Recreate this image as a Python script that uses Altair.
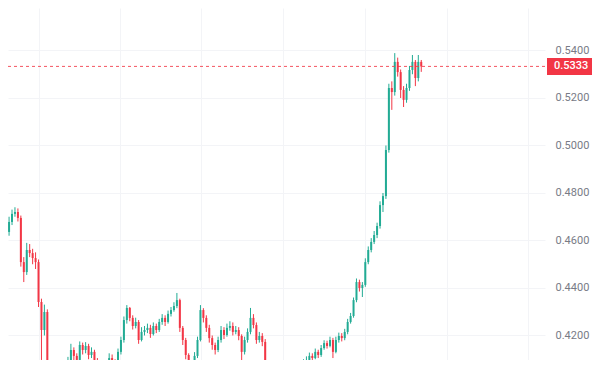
import altair as alt
import pandas as pd

first_open = 0.4600
closes = [
    0.4636, 0.4678, 0.4712, 0.4720, 0.4695, 0.4509, 0.4467, 0.4560, 0.4547, 0.4526,
    0.4509, 0.4341, 0.4223, 0.4299, 0.4034, 0.3992, 0.4013, 0.4021, 0.4000, 0.4029,
    0.4046, 0.4088, 0.4139, 0.4114, 0.4097, 0.4160, 0.4139, 0.4156, 0.4118, 0.4131,
    0.4097, 0.4072, 0.4046, 0.4063, 0.4076, 0.4105, 0.4088, 0.4055, 0.4131, 0.4181,
    0.4265, 0.4316, 0.4274, 0.4240, 0.4257, 0.4181, 0.4215, 0.4223, 0.4232, 0.4206,
    0.4240, 0.4223, 0.4257, 0.4274, 0.4257, 0.4291, 0.4307, 0.4324, 0.4349, 0.4232,
    0.4181, 0.4118, 0.4063, 0.4072, 0.4114, 0.4181, 0.4307, 0.4274, 0.4232, 0.4189,
    0.4160, 0.4139, 0.4181, 0.4223, 0.4202, 0.4232, 0.4240, 0.4215, 0.4223, 0.4198,
    0.4131, 0.4181, 0.4215, 0.4274, 0.4244, 0.4181, 0.4198, 0.4173, 0.4072, 0.4013,
    0.3992, 0.3979, 0.3996, 0.4013, 0.4034, 0.4055, 0.4072, 0.4063, 0.4072, 0.4080,
    0.4076, 0.4088, 0.4097, 0.4114, 0.4105, 0.4131, 0.4118, 0.4147, 0.4168, 0.4156,
    0.4181, 0.4131, 0.4181, 0.4198, 0.4189, 0.4215, 0.4257, 0.4282, 0.4349, 0.4425,
    0.4400, 0.4413, 0.4509, 0.4560, 0.4594, 0.4623, 0.4661, 0.4749, 0.4787, 0.4981,
    0.5242, 0.5225, 0.5352, 0.5309, 0.5234, 0.5192, 0.5242, 0.5318, 0.5352, 0.5284,
    0.5352, 0.5333,
]
highs = [
    0.4660, 0.4700, 0.4730, 0.4740, 0.4735, 0.4705, 0.4530, 0.4590, 0.4585, 0.4565,
    0.4550, 0.4520, 0.4355, 0.4330, 0.4310, 0.4050, 0.4030, 0.4040, 0.4035, 0.4045,
    0.4065, 0.4110, 0.4165, 0.4150, 0.4125, 0.4175, 0.4170, 0.4172, 0.4165, 0.4150,
    0.4140, 0.4105, 0.4080, 0.4080, 0.4090, 0.4125, 0.4120, 0.4100, 0.4145, 0.4195,
    0.4280, 0.4328, 0.4320, 0.4285, 0.4275, 0.4265, 0.4235, 0.4240, 0.4250, 0.4245,
    0.4255, 0.4250, 0.4270, 0.4290, 0.4285, 0.4305, 0.4320, 0.4340, 0.4379, 0.4355,
    0.4240, 0.4190, 0.4125, 0.4090, 0.4130, 0.4195, 0.4328, 0.4315, 0.4285, 0.4245,
    0.4200, 0.4170, 0.4195, 0.4240, 0.4235, 0.4250, 0.4260, 0.4255, 0.4240, 0.4235,
    0.4205, 0.4195, 0.4230, 0.4316, 0.4290, 0.4255, 0.4215, 0.4210, 0.4185, 0.4085,
    0.4025, 0.4005, 0.4010, 0.4030, 0.4050, 0.4070, 0.4090, 0.4085, 0.4088, 0.4095,
    0.4092, 0.4100, 0.4112, 0.4128, 0.4125, 0.4145, 0.4140, 0.4160, 0.4180, 0.4178,
    0.4195, 0.4190, 0.4195, 0.4212, 0.4210, 0.4228, 0.4270, 0.4295, 0.4360, 0.4440,
    0.4435, 0.4425, 0.4525, 0.4575, 0.4610, 0.4640, 0.4675, 0.4765, 0.4800, 0.5000,
    0.5260, 0.5270, 0.5389, 0.5370, 0.5320, 0.5250, 0.5260, 0.5335, 0.5381, 0.5360,
    0.5381, 0.5360,
]
lows = [
    0.4547, 0.4620, 0.4665, 0.4700, 0.4680, 0.4490, 0.4425, 0.4455, 0.4530, 0.4500,
    0.4480, 0.4320, 0.4097, 0.4200, 0.4000, 0.3970, 0.3975, 0.3995, 0.3980, 0.3990,
    0.4015, 0.4035, 0.4080, 0.4095, 0.4070, 0.4090, 0.4120, 0.4125, 0.4100, 0.4105,
    0.4080, 0.4050, 0.4030, 0.4035, 0.4050, 0.4065, 0.4070, 0.4040, 0.4050, 0.4120,
    0.4170, 0.4250, 0.4260, 0.4225, 0.4230, 0.4165, 0.4175, 0.4200, 0.4210, 0.4190,
    0.4200, 0.4210, 0.4215, 0.4245, 0.4240, 0.4250, 0.4280, 0.4300, 0.4315, 0.4215,
    0.4160, 0.4100, 0.4045, 0.4050, 0.4065, 0.4105, 0.4175, 0.4255, 0.4215, 0.4170,
    0.4140, 0.4120, 0.4130, 0.4170, 0.4185, 0.4195, 0.4220, 0.4200, 0.4205, 0.4180,
    0.4080, 0.4120, 0.4170, 0.4205, 0.4230, 0.4165, 0.4170, 0.4155, 0.4055, 0.3995,
    0.3975, 0.3960, 0.3970, 0.3985, 0.4000, 0.4025, 0.4045, 0.4050, 0.4055, 0.4060,
    0.4065, 0.4068, 0.4080, 0.4090, 0.4095, 0.4100, 0.4105, 0.4110, 0.4140, 0.4145,
    0.4150, 0.4105, 0.4125, 0.4170, 0.4175, 0.4180, 0.4205, 0.4250, 0.4275, 0.4340,
    0.4385, 0.4362, 0.4405, 0.4500, 0.4550, 0.4585, 0.4610, 0.4650, 0.4720, 0.4775,
    0.4970, 0.5150, 0.5210, 0.5290, 0.5200, 0.5162, 0.5180, 0.5230, 0.5300, 0.5250,
    0.5270, 0.5310,
]
last_price = [0.5333]
price_label = ["0.5333"]
y_ticks = [0.42, 0.44, 0.46, 0.48, 0.50, 0.52, 0.54, 0.56]

opens = [first_open] + closes[:-1]
df = pd.DataFrame({
    "i": list(range(len(closes))),
    "open": opens, "close": closes, "high": highs, "low": lows,
})
df["dir"] = ["up" if c >= o else "down" for o, c in zip(opens, closes)]

GREEN = "#22ab94"
RED = "#f23645"

x_scale = alt.Scale(domain=[2.333, 181.333], nice=False, zero=False)
y_scale = alt.Scale(domain=[0.40968, 0.55789], nice=False, zero=False)
color = alt.Color("dir:N", scale=alt.Scale(domain=["up", "down"], range=[GREEN, RED]), legend=None)

x_enc = alt.X("i:Q", scale=x_scale,
              axis=alt.Axis(labels=False, ticks=False, domain=False, title=None,
                            grid=True, gridColor="#f3f4f7",
                            values=[11, 38.667, 66.333, 94, 122, 149.667, 177.333]))

base = alt.Chart(df)

wicks = base.mark_rule(strokeWidth=1, clip=True).encode(
    x=x_enc,
    y=alt.Y("low:Q", scale=y_scale,
            axis=alt.Axis(orient="right", values=y_ticks, format=".4f", title=None,
                          labelColor="#787b86", labelFont="Roboto", labelFontSize=11,
                          ticks=False, domain=False, labelPadding=10,
                          grid=True, gridColor="#f3f4f7")),
    y2="high:Q",
    color=color,
)
bodies = base.mark_bar(size=2, clip=True).encode(
    x="i:Q",
    y="open:Q",
    y2="close:Q",
    color=color,
)

pl = pd.DataFrame({"p": last_price, "label": price_label})
price_line = alt.Chart(pl).mark_rule(color=RED, strokeDash=[3, 3], strokeWidth=1, opacity=0.85).encode(
    y="p:Q"
)
price_box = alt.Chart(pl).mark_rect(color=RED, yOffset=-8.5, y2Offset=8.5).encode(
    y="p:Q", y2="p:Q", x=alt.value(539), x2=alt.value(584)
)
price_text = alt.Chart(pl).mark_text(
    color="white", font="Roboto", fontSize=11, fontWeight=500, align="left", baseline="middle"
).encode(y="p:Q", x=alt.value(546), text="label:N")

chart = alt.layer(wicks, bodies, price_line, price_box, price_text).properties(
    width=537, height=352,
    padding={"left": 0, "top": 0, "right": 47, "bottom": 0},
    autosize=alt.AutoSizeParams(type="none"),
    background="white",
).configure_view(stroke="transparent")

chart.save("out.html", embed_options={"renderer": "svg", "actions": False})
